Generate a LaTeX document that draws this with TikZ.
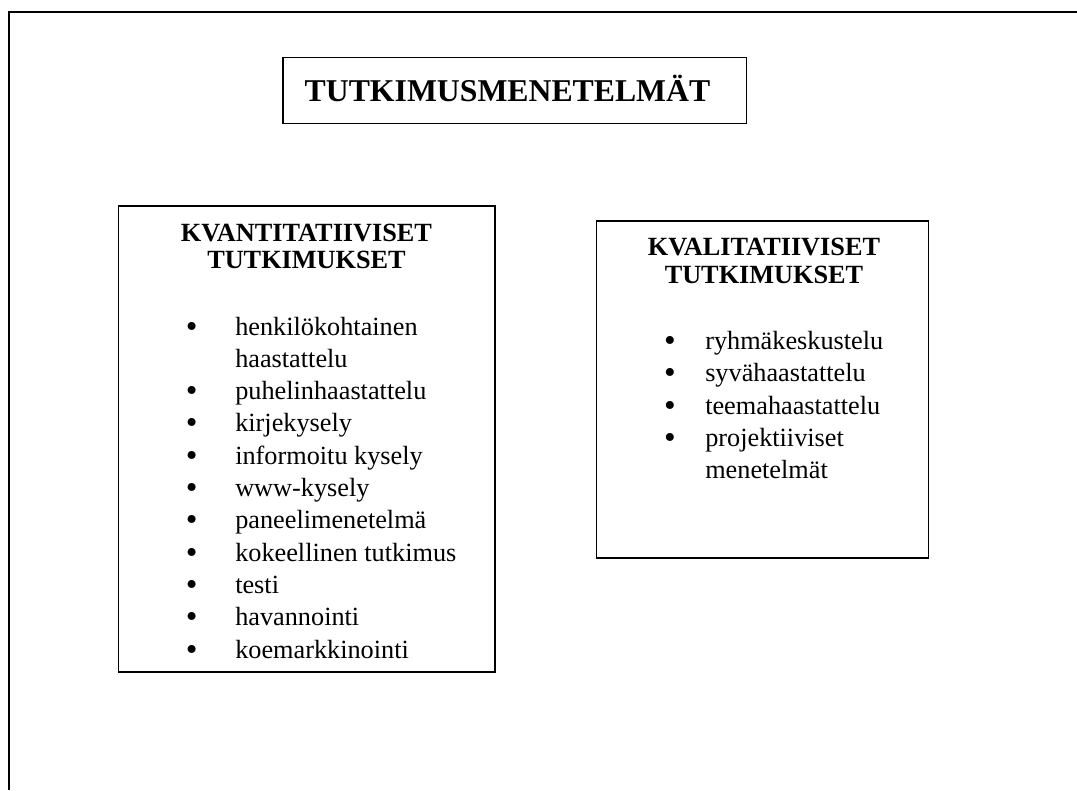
\documentclass[tikz,border=0pt]{standalone}
\usepackage{fontspec}
\setmainfont{Liberation Serif}
\begin{document}
\begin{tikzpicture}[x=0.75pt,y=-0.75pt,
  frameline/.style={line width=1.6pt},
  boxline/.style={line width=1.1pt},
  titletext/.style={font=\fontsize{23.8}{28}\selectfont\bfseries, inner sep=0pt, anchor=base},
  headtext/.style={font=\fontsize{19.7}{24}\selectfont\bfseries, inner sep=0pt, anchor=base},
  itemtext/.style={font=\fontsize{19.7}{24}\selectfont, inner sep=0pt, anchor=base west},
  bullettext/.style={font=\fontsize{25}{28}\selectfont, inner sep=0pt, anchor=base}]
\useasboundingbox (0,0) rectangle (1077,790);
% outer frame (top and left edges)
\draw[frameline] (9,790) -- (9,12) -- (1077,12);
% title
\draw[boxline] (283,57.5) rectangle (746.5,123.5);
\node[titletext] (title) at (507.5,101) {TUTKIMUSMENETELMÄT};
% left box
\draw[boxline] (118.3,206) rectangle (495,672);
\node[headtext] (lh1) at (306.5,241.7) {KVANTITATIIVISET};
\node[headtext] (lh2) at (306.5,268.5) {TUTKIMUKSET};
\foreach \k/\t/\b in {0/henkilökohtainen/1, 1/haastattelu/0, 2/puhelinhaastattelu/1,
  3/kirjekysely/1, 4/informoitu kysely/1, 5/www-kysely/1, 6/paneelimenetelmä/1,
  7/kokeellinen tutkimus/1, 8/testi/1, 9/havannointi/1, 10/koemarkkinointi/1}{
  \node[itemtext] (litem\k) at (235,335+32.3*\k) {\t};
  \ifnum\b=1
    \node[bullettext] (lbul\k) at (191.7,337+32.3*\k) {•};
  \fi
}
% right box
\draw[boxline] (596.5,221) rectangle (928.5,558);
\node[headtext] (rh1) at (764,255.7) {KVALITATIIVISET};
\node[headtext] (rh2) at (764,283.3) {TUTKIMUKSET};
\foreach \k/\t/\b in {0/ryhmäkeskustelu/1, 1/syvähaastattelu/1, 2/teemahaastattelu/1,
  3/projektiiviset/1, 4/menetelmät/0}{
  \node[itemtext] (ritem\k) at (705,349.5+32.3*\k) {\t};
  \ifnum\b=1
    \node[bullettext] (rbul\k) at (670,351.5+32.3*\k) {•};
  \fi
}
\end{tikzpicture}
\end{document}
